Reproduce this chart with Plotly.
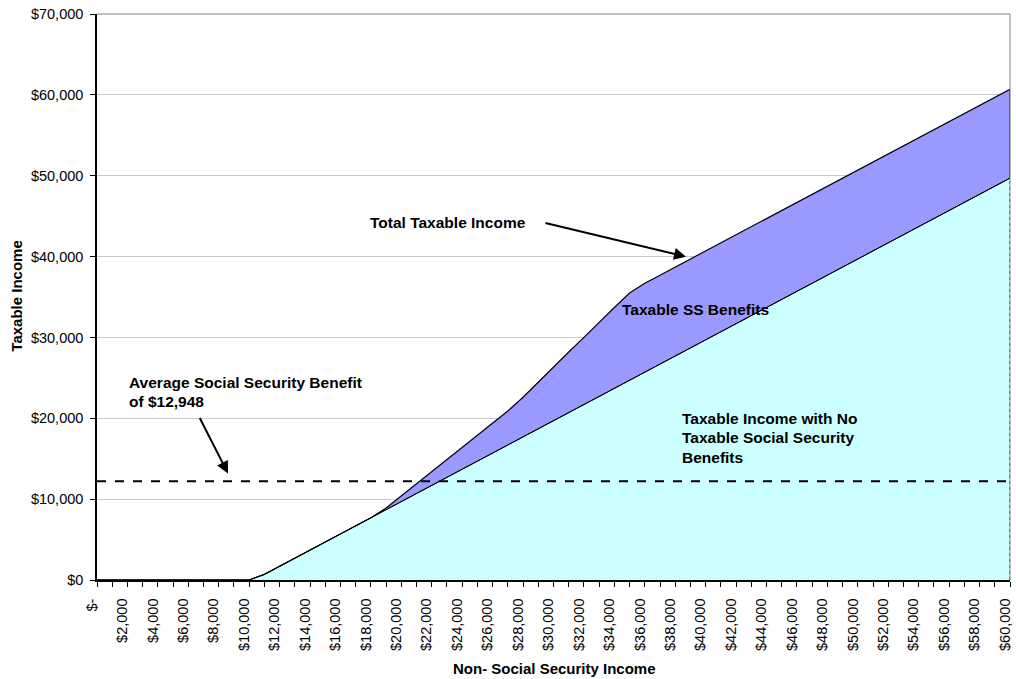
import plotly.graph_objects as go

# Non-Social Security income categories (x)
income = [0, 1000, 2000, 3000, 4000, 5000, 6000, 7000, 8000, 9000, 10000,
          11000, 12000, 13000, 14000, 15000, 16000, 17000, 18000, 19000, 20000,
          21000, 22000, 23000, 24000, 25000, 26000, 27000, 28000, 29000, 30000,
          31000, 32000, 33000, 34000, 35000, 36000, 37000, 38000, 39000, 40000,
          41000, 42000, 43000, 44000, 45000, 46000, 47000, 48000, 49000, 50000,
          51000, 52000, 53000, 54000, 55000, 56000, 57000, 58000, 59000, 60000]

# Taxable income with no taxable SS benefits
base_taxable = [0, 0, 0, 0, 0, 0, 0, 0, 0, 0, 0,
                700, 1700, 2700, 3700, 4700, 5700, 6700, 7700, 8700, 9700,
                10700, 11700, 12700, 13700, 14700, 15700, 16700, 17700, 18700, 19700,
                20700, 21700, 22700, 23700, 24700, 25700, 26700, 27700, 28700, 29700,
                30700, 31700, 32700, 33700, 34700, 35700, 36700, 37700, 38700, 39700,
                40700, 41700, 42700, 43700, 44700, 45700, 46700, 47700, 48700, 49700]

# Total taxable income (including taxable SS benefits)
total_taxable = [0, 0, 0, 0, 0, 0, 0, 0, 0, 0, 0,
                 700, 1700, 2700, 3700, 4700, 5700, 6700, 7700, 8900, 10400,
                 11900, 13400, 14900, 16400, 17900, 19400, 20900, 22600, 24500, 26300,
                 28200, 30000, 31900, 33700, 35500, 36700, 37700, 38700, 39700, 40700,
                 41700, 42700, 43700, 44700, 45700, 46700, 47700, 48700, 49700, 50700,
                 51700, 52700, 53700, 54700, 55700, 56700, 57700, 58700, 59700, 60700]

# Average SS benefit reference line (as drawn)
avg_benefit_line = 12200

x_tick_vals = [0, 2000, 4000, 6000, 8000, 10000, 12000, 14000, 16000, 18000, 20000,
               22000, 24000, 26000, 28000, 30000, 32000, 34000, 36000, 38000, 40000,
               42000, 44000, 46000, 48000, 50000, 52000, 54000, 56000, 58000, 60000]
x_tick_text = ["$-", "$2,000", "$4,000", "$6,000", "$8,000", "$10,000", "$12,000",
               "$14,000", "$16,000", "$18,000", "$20,000", "$22,000", "$24,000",
               "$26,000", "$28,000", "$30,000", "$32,000", "$34,000", "$36,000",
               "$38,000", "$40,000", "$42,000", "$44,000", "$46,000", "$48,000",
               "$50,000", "$52,000", "$54,000", "$56,000", "$58,000", "$60,000"]
y_tick_vals = [0, 10000, 20000, 30000, 40000, 50000, 60000, 70000]
y_tick_text = ["$0", "$10,000", "$20,000", "$30,000", "$40,000", "$50,000",
               "$60,000", "$70,000"]

FONT = "Liberation Sans, Arial, sans-serif"

fig = go.Figure()

fig.add_trace(go.Scatter(
    x=income, y=base_taxable, mode="lines", fill="tozeroy",
    fillcolor="#CCFFFF", line=dict(color="black", width=1),
    hoverinfo="skip", showlegend=False))
fig.add_trace(go.Scatter(
    x=income, y=total_taxable, mode="lines", fill="tonexty",
    fillcolor="#9999FF", line=dict(color="black", width=1.2),
    hoverinfo="skip", showlegend=False))
# base line on top
fig.add_trace(go.Scatter(
    x=income, y=base_taxable, mode="lines",
    line=dict(color="black", width=1),
    hoverinfo="skip", showlegend=False))
# right edge outlines
fig.add_trace(go.Scatter(
    x=[income[-1], income[-1]], y=[0, base_taxable[-1]], mode="lines",
    line=dict(color="black", width=1, dash="dot"),
    hoverinfo="skip", showlegend=False))
fig.add_trace(go.Scatter(
    x=[income[-1], income[-1]], y=[base_taxable[-1], total_taxable[-1]], mode="lines",
    line=dict(color="black", width=1.2),
    hoverinfo="skip", showlegend=False))
# average benefit dashed line
fig.add_trace(go.Scatter(
    x=[income[0], income[-1]], y=[avg_benefit_line, avg_benefit_line], mode="lines",
    line=dict(color="black", width=2, dash="dash"),
    hoverinfo="skip", showlegend=False))

L, R, T, B = 97, 1010, 14, 580.7
W, H = R - L, B - T


def px(xp):
    return (xp - L) / W


def py(yp):
    return (B - yp) / H


bold = dict(family=FONT, size=15.5, color="black")
annotations = [
    dict(text="<b>Total Taxable Income</b>", x=px(368), y=py(223), xref="paper", yref="paper",
         xanchor="left", yanchor="middle", showarrow=False, font=bold),
    dict(text="<b>Taxable SS Benefits</b>", x=px(620), y=py(310), xref="paper", yref="paper",
         xanchor="left", yanchor="middle", showarrow=False, font=bold),
    dict(text="<b>Taxable Income with No</b>", x=px(680), y=py(419), xref="paper", yref="paper",
         xanchor="left", yanchor="middle", showarrow=False, font=bold),
    dict(text="<b>Taxable Social Security</b>", x=px(680), y=py(438.5), xref="paper", yref="paper",
         xanchor="left", yanchor="middle", showarrow=False, font=bold),
    dict(text="<b>Benefits</b>", x=px(680), y=py(458), xref="paper", yref="paper",
         xanchor="left", yanchor="middle", showarrow=False, font=bold),
    dict(text="<b>Average Social Security Benefit</b>", x=px(127), y=py(383), xref="paper", yref="paper",
         xanchor="left", yanchor="middle", showarrow=False, font=bold),
    dict(text="<b>of $12,948</b>", x=px(127), y=py(402), xref="paper", yref="paper",
         xanchor="left", yanchor="middle", showarrow=False, font=bold),
    # arrows
    dict(text="", x=px(686), y=py(257), xref="paper", yref="paper",
         ax=-142, ay=-34, axref="pixel", ayref="pixel", showarrow=True,
         arrowhead=2, arrowsize=1.2, arrowwidth=2, arrowcolor="black"),
    dict(text="", x=px(228), y=py(474), xref="paper", yref="paper",
         ax=-29, ay=-57, axref="pixel", ayref="pixel", showarrow=True,
         arrowhead=2, arrowsize=1.2, arrowwidth=2, arrowcolor="black"),
    # axis titles
    dict(text="<b>Taxable Income</b>", x=px(17), y=py(297), xref="paper", yref="paper",
         xanchor="center", yanchor="middle", textangle=-90, showarrow=False,
         font=dict(family=FONT, size=15, color="black")),
    dict(text="<b>Non- Social Security Income</b>", x=px(554), y=py(669), xref="paper", yref="paper",
         xanchor="center", yanchor="middle", showarrow=False,
         font=dict(family=FONT, size=15, color="black")),
]

fig.update_layout(
    width=1016, height=679, autosize=False,
    margin=dict(l=L, r=1016 - R, t=T, b=679 - 580, autoexpand=False),
    paper_bgcolor="white", plot_bgcolor="white",
    font=dict(family=FONT, size=14.5, color="black"),
    annotations=annotations,
    shapes=[
        dict(type="line", xref="paper", yref="paper", x0=0, x1=1, y0=1, y1=1,
             line=dict(color="#808080", width=1)),
        dict(type="line", xref="paper", yref="paper", x0=1, x1=1, y0=0, y1=1,
             line=dict(color="#808080", width=1)),
    ],
)

fig.update_xaxes(
    range=[income[0] - 0.01, income[-1] + 0.01], tickmode="array",
    tickvals=x_tick_vals, ticktext=x_tick_text, tickangle=-90,
    ticks="outside", ticklen=5, tickcolor="black", tickwidth=1,
    minor=dict(tick0=0, dtick=1000, ticks="outside", ticklen=5, tickcolor="black", tickwidth=1),
    showline=True, linecolor="black", linewidth=1.5,
    showgrid=False, zeroline=False, ticklabelstandoff=6, ticklabelshift=-5,
    ticklabeloverflow="allow", automargin=False,
    tickfont=dict(family=FONT, size=14.5, color="black"),
)
fig.update_yaxes(
    range=[0, 70000], tickmode="array",
    tickvals=y_tick_vals, ticktext=y_tick_text,
    ticks="outside", ticklen=5, tickcolor="black", tickwidth=1,
    showline=True, linecolor="black", linewidth=1.5,
    showgrid=True, gridcolor="#C8C8C8", gridwidth=1, zeroline=False,
    ticklabelstandoff=4, automargin=False,
    tickfont=dict(family=FONT, size=14.5, color="black"),
)

fig.write_html(
    "out.html",
    config={"displayModeBar": False},
    post_script="document.body.style.margin='0';document.body.style.overflow='hidden';",
)
